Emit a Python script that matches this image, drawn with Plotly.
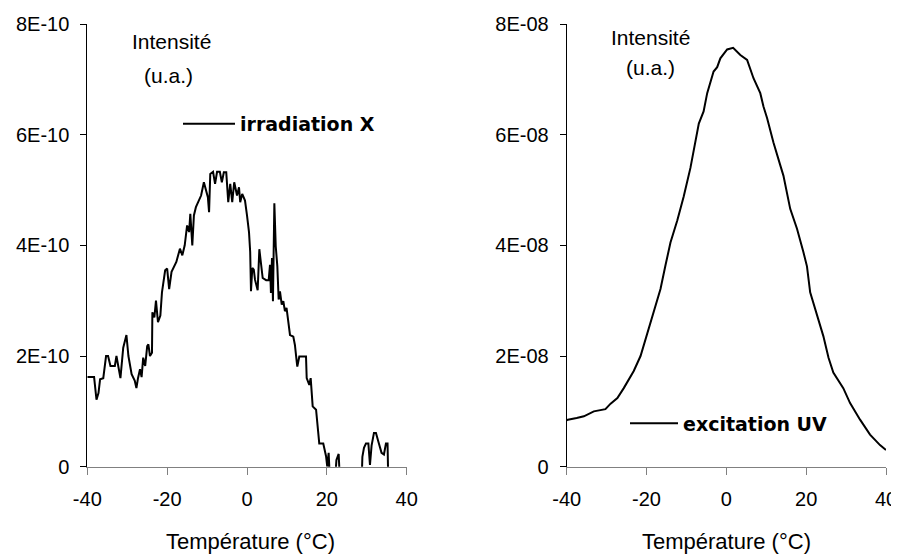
import plotly.graph_objects as go

# ---------------- data ----------------
# Left panel: X-ray irradiation (intensity in units of 1E-10)
temp_x = [-40, -38.3, -37.7, -37.2, -36.8, -36.0, -35.3, -34.8, -34.2, -33.1, -32.7, -32.2, -31.7,
          -31.0, -30.2, -29.7, -28.9, -28.1, -27.7, -27.3, -26.8, -26.4, -26.0, -25.5, -25.0, -24.7,
          -24.3, -23.8, -23.7, -23.2, -22.8, -22.3, -21.7, -21.3, -20.5, -20.0, -19.5, -18.9, -18.5,
          -17.7, -16.8, -16.2, -15.6, -15.0, -14.5, -14.2, -13.7, -13.3, -12.8, -12.2, -11.5, -10.8,
          -10.3, -9.8, -9.5, -9.2, -8.5, -8.0, -7.5, -6.8, -6.3, -5.8, -5.2, -4.7, -4.2, -3.7, -3.2,
          -2.5, -2.0, -1.7, -1.2, -0.5, 0.0, 0.5, 0.8, 1.0, 1.33, 1.7, 2.0, 2.67, 3.09, 3.4, 3.93,
          4.8, 5.43, 5.76, 6.0, 6.26, 6.5, 6.85, 7.2, 7.6, 7.93, 8.26, 8.7, 9.1, 9.5, 9.9, 10.4,
          10.77, 11.6, 12.0, 12.45, 12.6, 13.1, 14.78, 14.95, 15.6, 15.95, 16.45, 17.3, 17.6, 18.1,
          19.1, 19.8, 20.1, 20.45, 20.8, 22.0, 22.4, 22.96, 23.3, 28.7, 28.9, 29.3, 29.8, 30.4,
          30.8, 31.2, 31.8, 32.3, 33.0, 33.7, 34.3, 34.8, 35.2, 35.4]
intens_x = [1.62, 1.62, 1.21, 1.33, 1.58, 1.60, 2.00, 2.00, 1.82, 1.82, 2.00, 1.82, 1.60,
            2.15, 2.38, 2.00, 1.67, 1.55, 1.42, 1.60, 1.76, 1.62, 1.97, 1.82, 2.18, 2.21,
            2.00, 2.06, 2.79, 2.70, 3.00, 2.61, 2.73, 3.15, 3.55, 3.58, 3.21, 3.52, 3.58,
            3.70, 3.94, 3.82, 4.00, 4.36, 4.24, 4.57, 4.00, 4.54, 4.69, 4.78, 4.90, 5.14,
            4.99, 4.87, 4.60, 5.29, 5.33, 5.11, 5.33, 5.33, 5.14, 5.32, 5.32, 4.78, 5.11, 4.78, 5.14,
            4.90, 5.05, 4.78, 4.93, 4.81, 4.54, 4.24, 3.88, 3.17, 3.59, 3.56, 3.38, 3.19, 3.93, 3.74, 3.41,
            3.37, 3.37, 3.65, 3.14, 3.77, 2.99, 4.76, 3.98, 3.62, 3.02, 3.17, 2.93, 2.99, 2.81, 2.87, 2.57,
            2.38, 2.35, 2.20, 1.90, 1.81, 1.99, 1.99, 1.60, 1.48, 1.60, 1.09, 1.03, 0.79, 0.42,
            0.42, 0.19, 0.00, 0.25, -0.30, -0.30, 0.12, 0.23, -0.30, -0.30, 0.18, 0.34, 0.42, 0.42,
            0.03, 0.38, 0.61, 0.61, 0.43, 0.25, 0.22, 0.42, 0.42, -0.30]
scale_x = 1e-10

# Right panel: UV excitation (intensity in units of 1E-08)
temp_uv = [-40, -39.7, -37.5, -35.7, -33.2, -30.3, -29.0, -27.3, -25.7, -23.2, -21.5, -20.0, -18.2,
           -16.5, -15.25, -14.0, -12.3, -10.7, -9.0, -6.9, -5.7, -4.8, -3.2, -2.3, -1.5, 0.2, 1.7,
           3.5, 5.2, 6.8, 8.5, 9.3, 10.2, 11.8, 13.5, 14.3, 16.0, 17.7, 19.3, 20.2, 21.0, 22.7,
           24.3, 25.6, 26.8, 29.3, 31.0, 33.5, 36.0, 38.5, 40.0]
intens_uv = [0.84, 0.85, 0.88, 0.91, 1.00, 1.04, 1.14, 1.24, 1.42, 1.73, 2.00, 2.36, 2.79,
             3.21, 3.64, 4.05, 4.45, 4.88, 5.40, 6.20, 6.42, 6.75, 7.14, 7.22, 7.38, 7.54, 7.57,
             7.44, 7.35, 7.02, 6.75, 6.51, 6.30, 5.86, 5.45, 5.26, 4.66, 4.30, 3.88, 3.62, 3.15, 2.73,
             2.36, 1.97, 1.70, 1.42, 1.15, 0.85, 0.58, 0.39, 0.30]
scale_uv = 1e-8

x_ticks = [-40, -20, 0, 20, 40]
x_ticklabels = ["-40", "-20", "0", "20", "40"]
y_ticks_left = [0, 2e-10, 4e-10, 6e-10, 8e-10]
y_ticklabels_left = ["0", "2E-10", "4E-10", "6E-10", "8E-10"]
y_ticks_right = [0, 2e-8, 4e-8, 6e-8, 8e-8]
y_ticklabels_right = ["0", "2E-08", "4E-08", "6E-08", "8E-08"]

name_left = "irradiation X"
name_right = "excitation UV"
x_title = "Température (°C)"
y_title_1 = "Intensité"
y_title_2 = "(u.a.)"

# ---------------- figure ----------------
# The page body has an 8px default margin, so the figure is drawn 8px smaller
# and all target screen positions are shifted by that offset.
OFF = 8
W, H = 899 - OFF, 556 - OFF
FONT = "Liberation Sans, Arial, sans-serif"
fig = go.Figure()

fig.add_trace(go.Scatter(
    x=temp_x, y=[v * scale_x for v in intens_x], mode="lines", name=name_left,
    line=dict(color="black", width=2), xaxis="x", yaxis="y", legend="legend"))
fig.add_trace(go.Scatter(
    x=temp_uv, y=[v * scale_uv for v in intens_uv], mode="lines", name=name_right,
    line=dict(color="black", width=2), xaxis="x2", yaxis="y2", legend="legend2"))

def px_x(p):
    return (p - OFF) / W

def px_y(p):
    return 1 - (p - OFF) / H

ydom = [px_y(466.7), px_y(24)]
xaxis_common = dict(range=[-40, 40], tickvals=x_ticks, ticktext=x_ticklabels,
                    showgrid=False, zeroline=False, showline=True, linecolor="#808080",
                    linewidth=1, ticks="outside", ticklen=7, tickcolor="#808080",
                    tickfont=dict(family=FONT, size=20, color="black"), ticklabelstandoff=7)
yaxis_common = dict(showgrid=False, zeroline=False, showline=True, linecolor="black",
                    linewidth=1, ticks="outside", ticklen=6, tickcolor="black",
                    tickfont=dict(family=FONT, size=20, color="black"), ticklabelstandoff=7,
                    domain=ydom)

legend_font = dict(family="DejaVu Sans, sans-serif", size=19, color="black", weight="bold")
fig.update_layout(
    width=W, height=H,
    margin=dict(l=0, r=0, t=0, b=0, autoexpand=False),
    paper_bgcolor="white", plot_bgcolor="white",
    xaxis=dict(domain=[px_x(87.3), px_x(406.7)], anchor="y", **xaxis_common),
    yaxis=dict(range=[0, 8e-10], tickvals=y_ticks_left, ticktext=y_ticklabels_left,
               anchor="x", **yaxis_common),
    xaxis2=dict(domain=[px_x(566.7), px_x(886)], anchor="y2", **xaxis_common),
    yaxis2=dict(range=[0, 8e-8], tickvals=y_ticks_right, ticktext=y_ticklabels_right,
                anchor="x2", **yaxis_common),
    legend=dict(x=px_x(178), y=px_y(124), xanchor="left", yanchor="middle", itemwidth=52,
                bgcolor="rgba(0,0,0,0)", borderwidth=0, font=legend_font),
    legend2=dict(x=px_x(625), y=px_y(423.3), xanchor="left", yanchor="middle", itemwidth=48,
                 bgcolor="rgba(0,0,0,0)", borderwidth=0, font=legend_font),
    showlegend=True,
)

annots = [
    (171.7, 42, y_title_1, 21), (168.3, 75, y_title_2, 21),
    (650.3, 37, y_title_1, 21), (650.0, 68, y_title_2, 21),
    (250.8, 541, x_title, 22), (726.7, 541, x_title, 22),
]
for xp, yp, txt, fs in annots:
    fig.add_annotation(x=px_x(xp), y=px_y(yp), xref="paper", yref="paper", text=txt,
                       showarrow=False, xanchor="center", yanchor="middle",
                       font=dict(family=FONT, size=fs, color="black"))

fig.write_html("out.html")
